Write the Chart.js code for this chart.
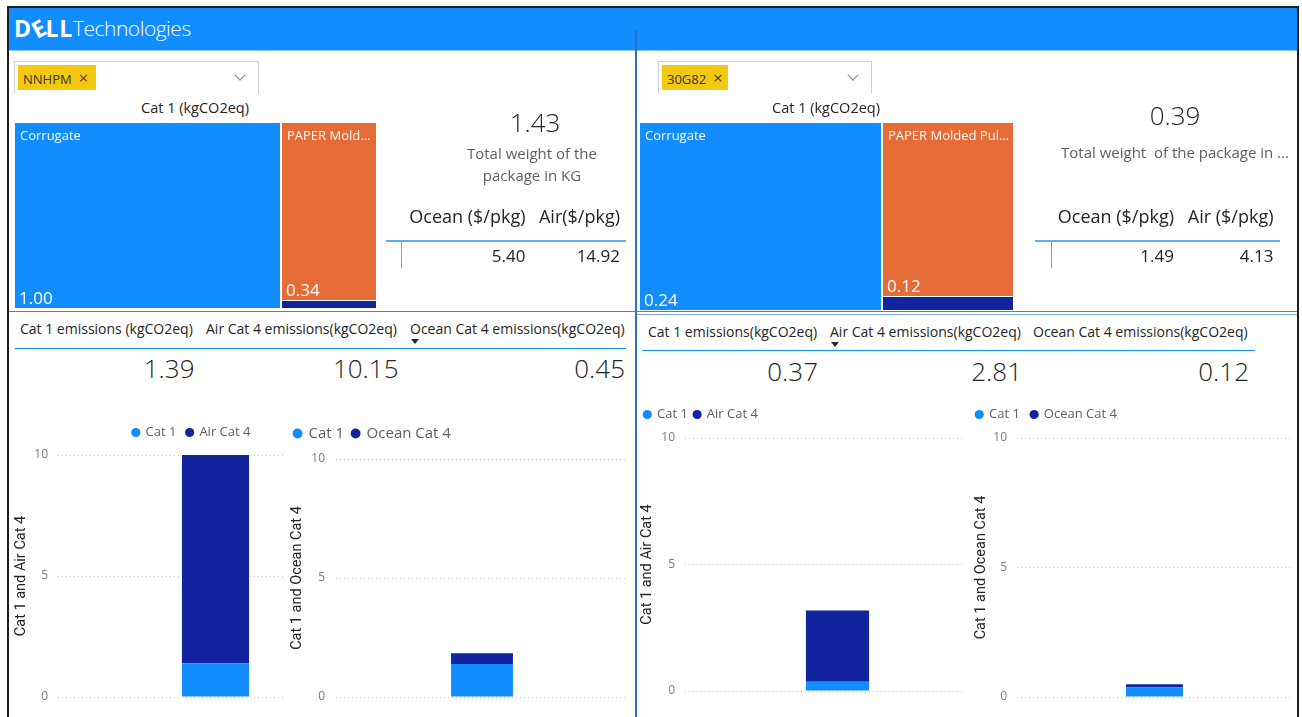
<!DOCTYPE html>
<html>
<head>
<meta charset="utf-8">
<script src="https://cdn.jsdelivr.net/npm/chart.js@4.4.1/dist/chart.umd.min.js"></script>
<style>
  html, body { margin:0; padding:0; width:1302px; height:717px; overflow:hidden; background:#fff; }
  body { position:relative; font-family:"Segoe UI","Open Sans","Noto Sans",sans-serif; color:#252423; }
  .a { position:absolute; white-space:pre; line-height:1; }
  .frame { position:absolute; left:7px; top:6px; width:1288px; height:730px; border:2px solid #1e1e1e; }
  .header { position:absolute; left:9px; top:8px; width:1288px; height:42px; background:#118DFF; border-bottom:1px solid #8cc6ff; }
  .vdiv { position:absolute; left:635px; top:30px; width:2px; height:700px; background:#2a72c8; }
  .hline { position:absolute; height:1px; }
  .slicer { position:absolute; height:32px; border:1px solid #d2d0ce; border-bottom:none; background:#fff; }
  .tag { position:absolute; height:25px; background:#F2C811; font-size:13px; line-height:25px; color:#333; padding-left:5px; box-sizing:border-box; white-space:pre; }
  .chev { position:absolute; width:7px; height:7px; border-right:1px solid #8a8886; border-bottom:1px solid #8a8886; transform:rotate(45deg); }
  .arrow { position:absolute; width:0; height:0; border-left:4px solid transparent; border-right:4px solid transparent; border-top:5px solid #252423; }
  .box { position:absolute; }
  .box canvas { display:block; }
</style>
</head>
<body>
<div class="frame"></div>
<div class="header"></div>
<div class="a" style="left:14px;top:15px;color:#fff;font-size:23px;font-weight:700;letter-spacing:0.8px;line-height:26px;">D<span style="display:inline-block;transform:rotate(-28deg);">E</span>LL</div>
<div class="a" style="left:73px;top:16px;color:#fff;font-size:21px;font-weight:300;letter-spacing:-0.5px;line-height:24px;">Technologies</div>
<div class="vdiv"></div>
<div class="hline" style="left:9px;top:311px;width:1288px;background:#3b84d6;"></div>
<div class="hline" style="left:637px;top:314px;width:660px;background:#7aa9de;"></div>

<div class="box" style="left:15px;top:123px;width:361px;height:185px;"><canvas id="treemapA"></canvas></div>
<div class="box" style="left:640px;top:123px;width:373px;height:187px;"><canvas id="treemapB"></canvas></div>

<div class="box" style="left:10px;top:416px;width:363px;height:294px;"><canvas id="barA1"></canvas></div>
<div class="box" style="left:286px;top:418px;width:342px;height:292px;background:#fff;"><canvas id="barA2"></canvas></div>
<div class="box" style="left:638px;top:402px;width:352px;height:308px;"><canvas id="barB1"></canvas></div>
<div class="box" style="left:965px;top:397px;width:327px;height:313px;background:#fff;"><canvas id="barB2"></canvas></div>

<script>
// ---------------- DATA ----------------
const slicerTags = ["NNHPM", "30G82"];
const treemapTitle = "Cat 1 (kgCO2eq)";
const treemapLabels = ["Corrugate", "PAPER Molded Pulp", "Other"];
const treemapValuesA = [1.00, 0.34, 0.015];
const treemapValuesB = [0.24, 0.12, 0.01];
const totalWeight = [1.43, 0.39];
const weightCaptions = [["Total weight of the", "package in KG"], ["Total weight  of the package in ..."]];
const costHeadersA = ["Ocean ($/pkg)", "Air($/pkg)"];
const costHeadersB = ["Ocean ($/pkg)", "Air ($/pkg)"];
const oceanCost = [5.40, 1.49];
const airCost = [14.92, 4.13];
const emissionHeadersA = ["Cat 1 emissions (kgCO2eq)", "Air Cat 4 emissions(kgCO2eq)", "Ocean Cat 4 emissions(kgCO2eq)"];
const emissionHeadersB = ["Cat 1 emissions(kgCO2eq)", "Air Cat 4 emissions(kgCO2eq)", "Ocean Cat 4 emissions(kgCO2eq)"];
const cat1Emissions = [1.39, 0.37];
const airCat4Emissions = [10.15, 2.81];
const oceanCat4Emissions = [0.45, 0.12];
const seriesNames = ["Cat 1", "Air Cat 4", "Ocean Cat 4"];
const axisTitles = ["Cat 1 and Air Cat 4", "Cat 1 and Ocean Cat 4"];
const yTicks = [0, 5, 10];

// ---------------- STYLE ----------------
const FONT = '"Segoe UI","Open Sans","Noto Sans",sans-serif';
const AXFONT = 'Roboto,"Open Sans",sans-serif';
const COL_CAT1 = '#118DFF';
const COL_CAT4 = '#12239E';
const TREEMAP_COLORS = ['#118DFF', '#E66C37', '#12239E'];

function el(cls, css, text) {
  const d = document.createElement('div');
  d.className = cls;
  if (text !== undefined) d.textContent = text;
  Object.assign(d.style, css);
  document.body.appendChild(d);
  return d;
}
function rtext(text, right, top, size, color, weight) {
  return el('a', { left: (right - 400) + 'px', width: '400px', textAlign: 'right', top: top + 'px', fontSize: size + 'px', color: color || '#252423', fontWeight: weight || 400 }, text);
}
function ctext(text, center, top, size, color, weight) {
  return el('a', { left: (center - 200) + 'px', width: '400px', textAlign: 'center', top: top + 'px', fontSize: size + 'px', color: color || '#252423', fontWeight: weight || 400 }, text);
}
function ltext(text, left, top, size, color) {
  return el('a', { left: left + 'px', top: top + 'px', fontSize: size + 'px', color: color || '#252423' }, text);
}

// ---------------- PANEL LAYOUT ----------------
const panels = [
  { slicer: { left: 14, top: 61, width: 243, tagW: 78, chevX: 236 }, titleX: 195,
    weightX: 535, weightTop: 109, capTop: 142, capLH: 22, capX: 532,
    costHead: costHeadersA, colR: [525.5, 620], headTop: 206.5, valTop: 247,
    tableLine: { left: 386, width: 240 }, tick: 401,
    emHead: emissionHeadersA, emX: [20, 206, 410], emRight: [194.5, 398.5, 625], emTop: 322, emArrow: 410.5, emArrowTop: 339, emLine: { left: 15, width: 611, top: 348 }, emValTop: 355 },
  { slicer: { left: 658, top: 61, width: 212, tagW: 66, chevX: 849 }, titleX: 826,
    weightX: 1175, weightTop: 102, capTop: 141, capLH: 22, capX: 1175,
    costHead: costHeadersB, colR: [1174, 1273.5], headTop: 206.5, valTop: 247,
    tableLine: { left: 1035, width: 245 }, tick: 1051,
    emHead: emissionHeadersB, emX: [648, 830, 1033], emRight: [818, 1022, 1249], emTop: 325, emArrow: 830.5, emArrowTop: 342, emLine: { left: 642, width: 613, top: 350 }, emValTop: 358 }
];

panels.forEach((p, i) => {
  // slicer
  el('slicer', { left: p.slicer.left + 'px', top: p.slicer.top + 'px', width: p.slicer.width + 'px' });
  const tag = el('tag', { left: (p.slicer.left + 4) + 'px', top: (p.slicer.top + 4) + 'px', width: p.slicer.tagW + 'px' });
  tag.textContent = slicerTags[i] + '  ';
  const x = document.createElement('span'); x.textContent = '×'; x.style.fontSize = '17px'; x.style.color = '#444'; tag.appendChild(x);
  el('chev', { left: p.slicer.chevX + 'px', top: (p.slicer.top + 10) + 'px' });
  // treemap title
  ctext(treemapTitle, p.titleX, 101, 14.5);
  // card
  ctext(totalWeight[i].toFixed(2), p.weightX, p.weightTop, 26, '#252423', 300);
  weightCaptions[i].forEach((line, k) => {
    el('a', { left: (p.capX - 200) + 'px', width: '400px', textAlign: 'center', top: (p.capTop + k * p.capLH) + 'px', fontSize: '15px', color: '#605E5C', lineHeight: p.capLH + 'px' }, line);
  });
  // cost table
  rtext(p.costHead[0], p.colR[0], p.headTop, 18);
  rtext(p.costHead[1], p.colR[1], p.headTop, 18);
  el('hline', { left: p.tableLine.left + 'px', top: '240px', width: p.tableLine.width + 'px', background: '#5eaaf3', height: '2px' });
  el('hline', { left: p.tick + 'px', top: '241px', width: '1px', height: '27px', background: '#5eaaf3' });
  rtext(oceanCost[i].toFixed(2), p.colR[0], p.valTop, 17);
  rtext(airCost[i].toFixed(2), p.colR[1], p.valTop, 17);
  // multi-row card
  p.emHead.forEach((h, k) => ltext(h, p.emX[k], p.emTop, 14));
  el('arrow', { left: p.emArrow + 'px', top: p.emArrowTop + 'px' });
  el('hline', { left: p.emLine.left + 'px', top: p.emLine.top + 'px', width: p.emLine.width + 'px', background: '#118DFF' });
  const vals = [cat1Emissions[i], airCat4Emissions[i], oceanCat4Emissions[i]];
  vals.forEach((v, k) => rtext(v.toFixed(2), p.emRight[k], p.emValTop, 26, '#252423', 300));
});

// ---------------- TREEMAP (Chart.js scales + cell plugin) ----------------
function fitText(ctx, s, w) {
  if (ctx.measureText(s).width <= w - 12) return s;
  let t = s;
  while (t.length > 1 && ctx.measureText(t + '...').width > w) t = t.slice(0, -1);
  return t + '...';
}
const treemapPlugin = {
  id: 'treemapCells',
  afterDatasetsDraw(chart, args, opts) {
    const vals = opts.values, names = opts.labels, cols = opts.colors;
    const xs = chart.scales.x, ys = chart.scales.y, ctx = chart.ctx;
    const total = vals.reduce((s, v) => s + v, 0);
    const rest = total - vals[0];
    const cells = [{ x0: 0, x1: vals[0], y0: 0, y1: 1 }];
    let acc = 1;
    for (let i = 1; i < vals.length; i++) {
      const h = vals[i] / rest;
      cells.push({ x0: vals[0], x1: total, y0: Math.max(0, acc - h), y1: acc });
      acc -= h;
    }
    ctx.save();
    cells.forEach((c, i) => {
      const l = Math.round(xs.getPixelForValue(c.x0)) + (c.x0 > 0 ? 1 : 0);
      const r = Math.round(xs.getPixelForValue(c.x1)) - (c.x1 < total ? 1 : 0);
      const t = Math.round(ys.getPixelForValue(c.y1)) + (c.y1 < 1 ? 1 : 0);
      const b = Math.round(ys.getPixelForValue(c.y0));
      ctx.fillStyle = cols[i];
      ctx.fillRect(l, t, r - l, b - t);
      if (b - t > 40) {
        ctx.fillStyle = '#ffffff';
        ctx.textAlign = 'left';
        ctx.textBaseline = 'alphabetic';
        ctx.font = '13px ' + FONT;
        ctx.fillText(fitText(ctx, names[i], r - l - 6), l + 5, t + 17);
        ctx.font = '17px ' + FONT;
        ctx.fillText(vals[i].toFixed(2), l + 4, b - 4);
      }
    });
    ctx.restore();
  }
};
function makeTreemap(id, values) {
  const total = values.reduce((s, v) => s + v, 0);
  return new Chart(document.getElementById(id), {
    type: 'scatter',
    data: { datasets: [{ data: [] }] },
    options: {
      responsive: true, maintainAspectRatio: false, animation: false, events: [],
      layout: { padding: 0 },
      plugins: { legend: { display: false }, tooltip: { enabled: false },
        treemapCells: { values: values, labels: treemapLabels, colors: TREEMAP_COLORS } },
      scales: {
        x: { type: 'linear', display: false, min: 0, max: total },
        y: { type: 'linear', display: false, min: 0, max: 1 }
      }
    },
    plugins: [treemapPlugin]
  });
}
makeTreemap('treemapA', treemapValuesA);
makeTreemap('treemapB', treemapValuesB);

// ---------------- STACKED BARS ----------------
function makeBar(id, cat1, cat4, cat4Name, yTitle, g) {
  return new Chart(document.getElementById(id), {
    type: 'bar',
    data: {
      labels: [''],
      datasets: [
        { label: seriesNames[0], data: [cat1], backgroundColor: COL_CAT1, barPercentage: g.bar, categoryPercentage: 1, clip: 0, borderWidth: 0 },
        { label: cat4Name, data: [cat4], backgroundColor: COL_CAT4, barPercentage: g.bar, categoryPercentage: 1, clip: 0, borderWidth: 0 }
      ]
    },
    options: {
      responsive: true, maintainAspectRatio: false, animation: false, events: [],
      layout: { padding: { left: 0, right: 0, top: 0, bottom: g.pb } },
      plugins: {
        tooltip: { enabled: false },
        legend: { position: 'top', align: g.align,
          labels: { usePointStyle: true, pointStyle: 'circle', boxWidth: g.box, boxHeight: g.box, color: '#605E5C', font: { size: g.lf, family: FONT }, padding: g.lp } }
      },
      scales: {
        x: { position: 'top', stacked: true, grid: { display: false, drawTicks: false }, ticks: { display: false }, border: { display: false },
             afterFit: s => { s.height = g.xh; } },
        y: { stacked: true, min: 0, max: 10,
             afterBuildTicks: s => { s.ticks = yTicks.map(v => ({ value: v })); },
             ticks: { color: '#7a7a7a', font: { size: 12, family: FONT }, padding: g.tp },
             grid: { color: '#c8c8c8', drawTicks: false, lineWidth: 1 },
             border: { display: false, dash: [1, 3] },
             title: { display: true, text: yTitle, color: '#252423', font: { size: 14.5, family: AXFONT }, padding: { top: g.tt, bottom: 0 } },
             afterFit: s => { s.width = g.yw; s.paddingTop = 0; s.paddingBottom = 0; } }
      }
    }
  });
}
makeBar('barA1', cat1Emissions[0], airCat4Emissions[0], seriesNames[1], axisTitles[0],
  { bar: 0.213, pb: 13, align: 'center', box: 6.5, lf: 13, lp: 10, xh: 6, tp: 10, tt: 3, yw: 48 });
makeBar('barA2', cat1Emissions[0], oceanCat4Emissions[0], seriesNames[2], axisTitles[1],
  { bar: 0.212, pb: 13, align: 'start', box: 7, lf: 15, lp: 8, xh: 8, tp: 11, tt: 3, yw: 50 });
makeBar('barB1', cat1Emissions[1], airCat4Emissions[1], seriesNames[1], axisTitles[0],
  { bar: 0.207, pb: 19, align: 'start', box: 6.5, lf: 13, lp: 6, xh: 7, tp: 10, tt: 1, yw: 47 });
makeBar('barB2', cat1Emissions[1], oceanCat4Emissions[1], seriesNames[2], axisTitles[1],
  { bar: 0.207, pb: 13, align: 'start', box: 6.5, lf: 13, lp: 11, xh: 7, tp: 10, tt: 8, yw: 52 });
</script>
</body>
</html>
